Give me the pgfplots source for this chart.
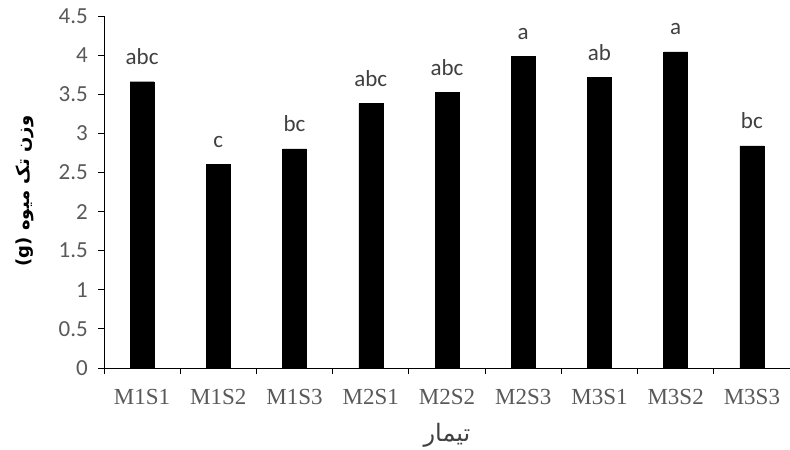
\documentclass[border=0pt]{standalone}
\usepackage{pgfplots}
\pgfplotsset{compat=1.18}
\usepackage{pgfplotstable}
\usepackage{fontspec}
\setmainfont{Liberation Serif}
\newfontfamily\calibri{Carlito}
\newfontfamily\timesf{Liberation Serif}
\newfontfamily\arabicfont[Script=Arabic]{DejaVu Sans}
\TeXXeTstate=1
\definecolor{tickgrey}{HTML}{595959}
\definecolor{lettergrey}{HTML}{404040}

\pgfplotstableread{
x val lab
0 3.66 abc
1 2.60 c
2 2.80 bc
3 3.38 abc
4 3.52 abc
5 3.98 a
6 3.72 ab
7 4.04 a
8 2.84 bc
}\datatable

\begin{document}
\begin{tikzpicture}
\useasboundingbox (-104bp,-82bp) rectangle (686bp,368bp);
\begin{axis}[
  at={(0,0)}, anchor=south west,
  scale only axis, width=686bp, height=352bp,
  xmin=-0.5, xmax=8.5, ymin=0, ymax=4.5,
  axis x line*=bottom, axis y line*=left,
  axis line style={black, line width=0.8bp},
  every tick/.style={black, line width=0.8bp},
  tick align=outside,
  major tick length=6bp,
  ytick={0,0.5,...,4.5},
  xtick={-0.5,0.5,...,8.5},
  xticklabels={M1S1,M1S2,M1S3,M2S1,M2S2,M2S3,M3S1,M3S2,M3S3},
  x tick label as interval,
  /pgf/number format/assume math mode=true,
  yticklabel style={font=\calibri\fontsize{23bp}{26bp}\selectfont, text=tickgrey, anchor=east, inner sep=0pt, xshift=-10bp},
  xticklabel style={font=\timesf\fontsize{23bp}{26bp}\selectfont, text=tickgrey, anchor=north, inner sep=0pt, yshift=-15bp},
  ybar, bar width=24bp,
  xlabel={\arabicfont\beginR تیمار\endR},
  xlabel style={at={(axis description cs:0.5,0)}, anchor=center, yshift=-67bp, font=\fontsize{24bp}{28bp}\selectfont, text=lettergrey},
  ylabel={\arabicfont\bfseries\beginR وزن تک میوه \beginL(g)\endL\endR},
  ylabel style={at={(axis description cs:-0.1152,0.503)}, anchor=center, font=\fontsize{18bp}{22bp}\selectfont, text=black},
  clip=false,
]
\addplot[fill=black, draw=black, nodes near coords, point meta=explicit symbolic,
  nodes near coords style={font=\calibri\fontsize{23bp}{26bp}\selectfont, text=lettergrey, anchor=base, yshift=17bp, inner sep=0pt}]
  table[x=x, y=val, meta=lab]{\datatable};
\end{axis}
\end{tikzpicture}
\end{document}
